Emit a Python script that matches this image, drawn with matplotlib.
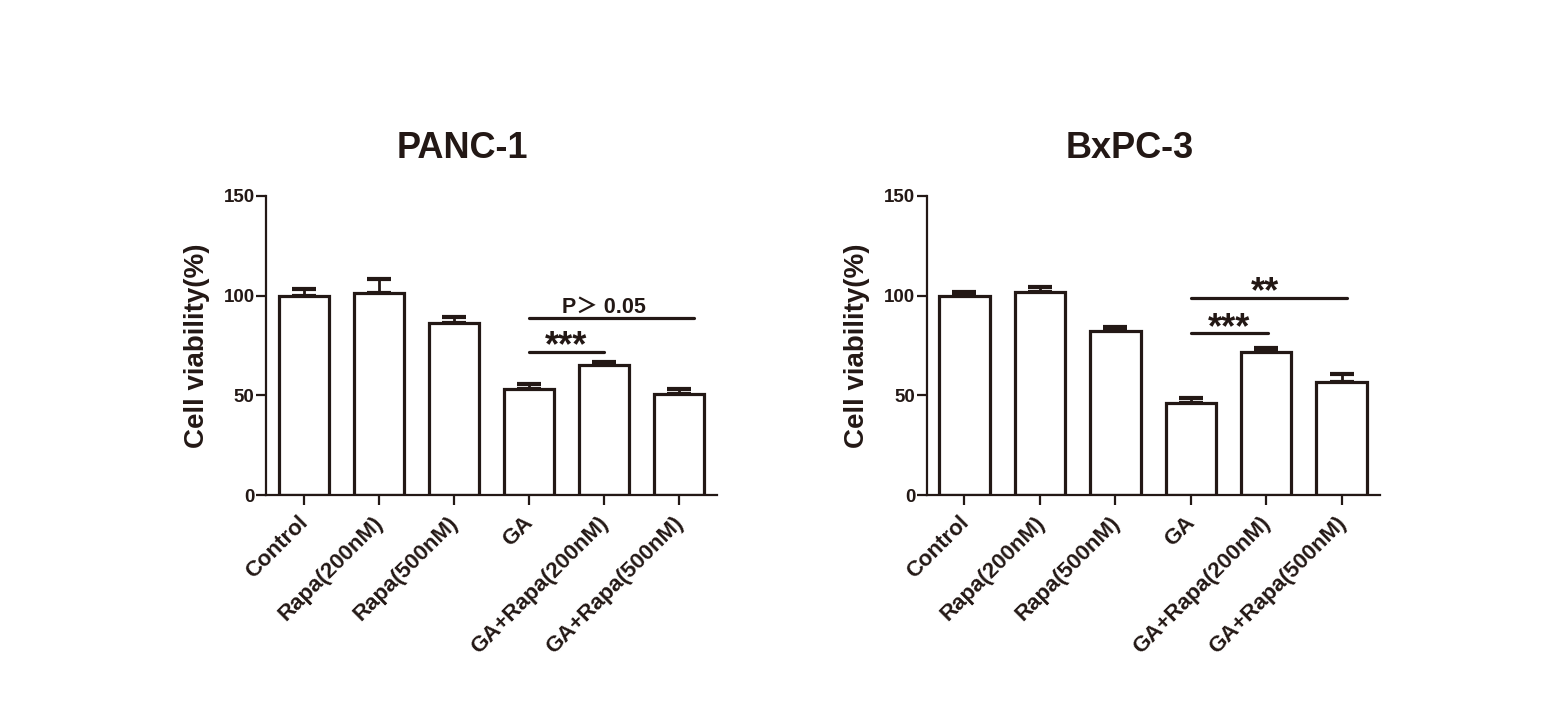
import numpy as np
import matplotlib
matplotlib.use("Agg")
import matplotlib.pyplot as plt
from matplotlib.transforms import ScaledTranslation

plt.rcParams['font.family'] = ['Liberation Sans', 'DejaVu Sans']

# données
groups = ["Control", "Rapa(200nM)", "Rapa(500nM)", "GA", "GA+Rapa(200nM)", "GA+Rapa(500nM)"]
panc_mean = [100, 101.2, 86.5, 53, 65, 50.5]
panc_err = [3.2, 7, 3, 2.5, 1.5, 2.5]
bxpc_mean = [100, 102, 82.5, 46, 71.8, 56.5]
bxpc_err = [2, 2.5, 2, 2.8, 2, 4.3]

# comparaisons : (début, fin de la ligne, hauteur, texte, centre du texte)
panc_sig = [(3, 4.01, 71.6, "***", 3.5), (3, 5.2, 89, "P＞ 0.05", 4.0)]
bxpc_sig = [(3, 4.02, 81.1, "***", 3.51), (3, 5.07, 98.7, "**", 3.99)]

black = "#231815"

fig = plt.figure(figsize=(15.66, 7.25), dpi=100)
ax1 = fig.add_axes([0.1699, 0.3172, 0.2878, 0.4125])
ax2 = fig.add_axes([0.5918, 0.3172, 0.2895, 0.4125])

shift = ScaledTranslation(-0.06, -0.03, fig.dpi_scale_trans)


def draw(ax, mean, err, sig, title, title_x):
    x = np.arange(len(groups))
    ax.bar(x, mean, width=0.667, color="white", edgecolor=black, linewidth=2.3, zorder=2)
    ax.errorbar(x, mean, yerr=[np.zeros(len(err)), err], fmt="none", ecolor=black,
                elinewidth=2, capsize=8.6, capthick=3, zorder=1)
    ax.set_xlim(-0.5, 5.51)
    ax.set_ylim(0, 150)
    ax.set_yticks([0, 50, 100, 150])
    ax.set_xticks(x)
    ax.set_xticklabels(groups, rotation=45, ha="right", va="top", rotation_mode="anchor",
                       fontsize=16, fontweight="bold", color=black)
    for lab in ax.get_yticklabels():
        lab.set_fontsize(13.5)
        lab.set_fontweight("bold")
        lab.set_color(black)
    for s in ["top", "right"]:
        ax.spines[s].set_visible(False)
    for s in ["left", "bottom"]:
        ax.spines[s].set_linewidth(1.6)
        ax.spines[s].set_color(black)
    ax.tick_params(axis="both", length=7.2, width=1.6, color=black)
    ax.tick_params(axis="y", pad=1)
    ax.tick_params(axis="x", pad=3)
    # décalage des étiquettes (après tick_params, sinon il est perdu)
    for lab in ax.get_xticklabels():
        lab.set_transform(lab.get_transform() + shift)
    ax.set_ylabel("Cell viability(%)", fontsize=20, fontweight="bold", color=black, labelpad=10)
    ax.set_title(title, x=title_x, fontsize=26, fontweight="bold", color=black, pad=27)

    for start, end, h, txt, xc in sig:
        ax.plot([start, end], [h, h], color=black, linewidth=2.3,
                solid_capstyle="round", clip_on=False)
        if txt.startswith("P"):
            ax.text(xc, h + 2.4, txt, ha="center", va="baseline", fontsize=15.5,
                    fontweight="bold", color=black,
                    family=["Liberation Sans", "Noto Sans CJK SC", "DejaVu Sans"])
        else:
            ax.text(xc, h - 2.2, txt, ha="center", va="baseline",
                    fontsize=26, fontweight="bold", color=black)


draw(ax1, panc_mean, panc_err, panc_sig, "PANC-1", (462 - 266) / 450.7)
draw(ax2, bxpc_mean, bxpc_err, bxpc_sig, "BxPC-3", (1130 - 926.7) / 453.3)

fig.savefig("out.png", dpi=100, facecolor="white")
